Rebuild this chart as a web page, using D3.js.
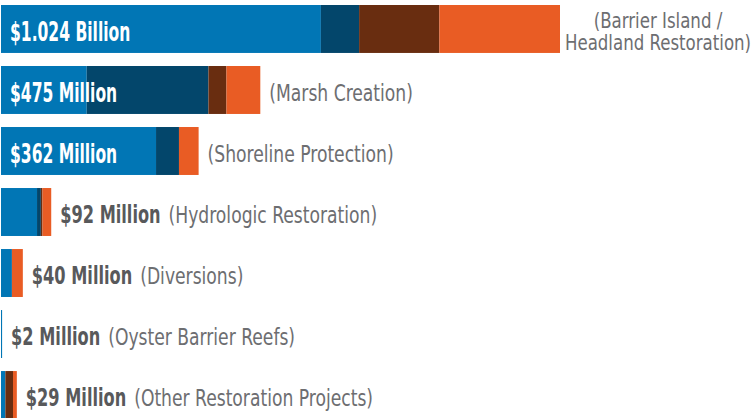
<!DOCTYPE html>
<html>
<head>
<meta charset="utf-8">
<script src="https://cdn.jsdelivr.net/npm/d3@7"></script>
<style>
  body { margin: 0; background: #fff; }
  text { font-family: "Liberation Sans Narrow", "DejaVu Sans Condensed", sans-serif; }
</style>
</head>
<body>
<svg id="chart" width="753" height="418"></svg>
<script>
// project types, top to bottom
var categories = ["Barrier Island / Headland Restoration", "Marsh Creation", "Shoreline Protection",
  "Hydrologic Restoration", "Diversions", "Oyster Barrier Reefs", "Other Restoration Projects"];
var totals = ["$1.024 Billion", "$475 Million", "$362 Million", "$92 Million",
  "$40 Million", "$2 Million", "$29 Million"];

// stacked pieces (millions), one array per colour
var seriesBlue   = [586, 157, 284, 66, 20, 2, 8];
var seriesNavy   = [70, 223, 42, 7, 0, 0, 0];
var seriesBrown  = [147, 33, 0, 3, 0, 0, 14];
var seriesOrange = [221, 62, 36, 16, 20, 0, 7];

var colors = ["#0176b5", "#03466b", "#692d10", "#e95c24"];

var svg = d3.select("#chart");

var rows = categories.map(function(c, i) {
  return { name: c, label: totals[i], i: i,
    blue: seriesBlue[i], navy: seriesNavy[i], brown: seriesBrown[i], orange: seriesOrange[i] };
});

var keys = ["blue", "navy", "brown", "orange"];
var stacked = d3.stack().keys(keys)(rows);

var x = d3.scaleLinear().domain([0, 1024]).range([1, 560]);
var y = d3.scaleBand().domain(d3.range(rows.length)).range([5, 419]).paddingInner(0.214);

svg.selectAll("g.layer")
  .data(stacked)
  .enter().append("g")
  .attr("class", "layer")
  .attr("fill", function(d, i) { return colors[i]; })
  .selectAll("rect")
  .data(function(d) { return d; })
  .enter().append("rect")
  .attr("x", function(d) { return x(d[0]); })
  .attr("y", function(d, i) { return y(i); })
  .attr("width", function(d) { return Math.max(0, x(d[1]) - x(d[0])); })
  .attr("height", y.bandwidth());

// the original face is very narrow, so squeeze the fallback horizontally
function addText(g, str, px, py, size, weight, fill, squeeze, anchor) {
  var t = g.append("text")
    .attr("font-size", size)
    .attr("font-weight", weight)
    .attr("fill", fill)
    .attr("text-anchor", anchor || "start")
    .attr("transform", "translate(" + px + "," + py + ") scale(" + squeeze + ",1)")
    .text(str);
  return t.node().getComputedTextLength() * squeeze;
}

var grey = "#6d6e71", dark = "#58595b";

rows.forEach(function(r, i) {
  var g = svg.append("g");
  var total = r.blue + r.navy + r.brown + r.orange;
  var end = x(total);
  var base = y(i) + y.bandwidth() / 2 + 11;
  if (i < 3) {
    addText(g, r.label, 10, base + 1, 26, "bold", "#ffffff", 0.665);
    if (i === 0) {
      // two-line label to the right of the long bar
      var cx = 658;
      addText(g, "(Barrier Island /", cx, 28, 21, "normal", grey, 0.88, "middle");
      addText(g, "Headland Restoration)", cx, 50, 21, "normal", grey, 0.88, "middle");
    } else {
      addText(g, "(" + r.name + ")", end + 9, base, 23, "normal", grey, 0.83);
    }
  } else {
    var w = addText(g, r.label, end + 9, base, 24, "bold", dark, 0.75);
    addText(g, "(" + r.name + ")", end + 9 + w + 8, base, 23, "normal", grey, 0.83);
  }
});
</script>
</body>
</html>
